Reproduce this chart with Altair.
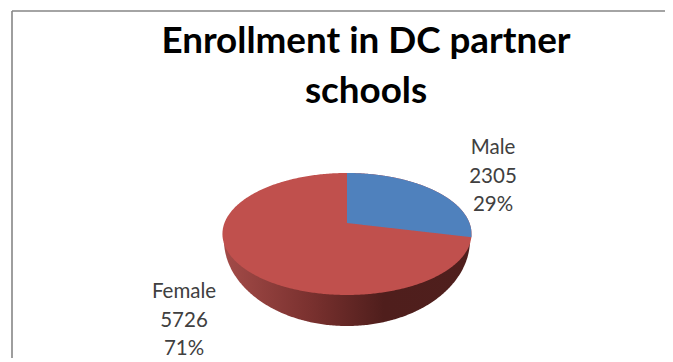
import math
import altair as alt

categories = ["Male", "Female"]
values = [2305, 5726]
title_lines = ["Enrollment in DC partner", "schools"]
label_font = "Lato"
colors = ["#4f81bd", "#c0504d"]

total = sum(values)
share = values[0] / total
W, H = 657, 350

# perspective of the tilted disc: k = foreshortening of the near/far side
k = 0.18
xs = alt.Scale(domain=[-2.767, 2.596], nice=False, zero=False)
ys = alt.Scale(domain=[-2.288, 3.644], nice=False, zero=False)
X = lambda f: alt.X(f, type="quantitative", scale=xs, axis=None)
Y = lambda f: alt.Y(f, type="quantitative", scale=ys, axis=None)

seq = alt.sequence(0, 1.0001, 0.004, as_="t")

# side wall of the cake, shaded from left to right
wall = (
    alt.Chart(seq)
    .transform_calculate(
        a="PI*datum.t",
        x="1.004*cos(datum.a)",
        y="-0.186",
        y_low="-0.288-1.458*sin(datum.a)",
    )
    .mark_area(
        color=alt.Gradient(
            gradient="linear",
            x1=0, x2=1, y1=0, y2=0,
            stops=[
                alt.GradientStop(offset=0, color="#a34b48"),
                alt.GradientStop(offset=0.35, color="#7a312f"),
                alt.GradientStop(offset=0.65, color="#4f1e1c"),
                alt.GradientStop(offset=1, color="#4f1f1d"),
            ],
        )
    )
    .encode(x=X("x:Q"), y=Y("y:Q"), y2="y_low:Q")
)

# whole top of the disc (the Female colour)
disc = (
    alt.Chart(seq)
    .transform_calculate(
        a="PI*datum.t",
        x="1.0166*cos(datum.a)",
        y="-0.186+1.034*sin(datum.a)",
        y_low="-0.186-1.034*sin(datum.a)",
    )
    .mark_area(color=colors[1])
    .encode(x=X("x:Q"), y=Y("y:Q"), y2="y_low:Q")
)

# Male sector, from 12 o'clock clockwise by its share of the total
th1 = 2 * math.pi * share
sector = (
    alt.Chart(seq)
    .transform_calculate(
        a=f"datum.t*{th1}",
        w=f"1+{k}*cos(datum.a)",
        x="sin(datum.a)/datum.w",
        y="cos(datum.a)/datum.w",
        y_low=f"datum.x*cos({th1})/sin({th1})",
    )
    .mark_area(color=colors[0])
    .encode(x=X("x:Q"), y=Y("y:Q"), y2="y_low:Q")
)

# frame: left and top edges of the embedded chart
frame_left = alt.Chart(alt.Data(values=[{}])).mark_rule(color="#868686", strokeWidth=1.6).encode(
    x=alt.value(4), y=alt.value(3), y2=alt.value(H)
)
frame_top = alt.Chart(alt.Data(values=[{}])).mark_rule(color="#868686", strokeWidth=1.6).encode(
    x=alt.value(4), x2=alt.value(W), y=alt.value(3)
)

title_rows = [
    {"text": t, "py": 45 + i * 50} for i, t in enumerate(title_lines)
]
title = (
    alt.Chart(alt.Data(values=title_rows))
    .mark_text(font=label_font, fontWeight="bold", fontSize=36.8, color="#000000",
               align="center", baseline="alphabetic")
    .encode(x=alt.value(358), y=alt.Y("py:Q", scale=None), text="text:N")
)

label_rows = []
for cat, val, cx, top in zip(categories, values, [485, 176], [146, 290]):
    pct = f"{round(100 * val / total)}%"
    for i, line in enumerate([cat, str(val), pct]):
        label_rows.append({"text": line, "px": cx, "py": top + i * 28.7})
labels = (
    alt.Chart(alt.Data(values=label_rows))
    .mark_text(font=label_font, fontSize=20.5, color="#404040", align="center", baseline="alphabetic")
    .encode(x=alt.X("px:Q", scale=None), y=alt.Y("py:Q", scale=None), text="text:N")
)

chart = (
    alt.layer(wall, disc, sector)
    .resolve_scale(x="shared", y="shared")
    .properties(width=W, height=H)
)
overlay = alt.layer(frame_left, frame_top, title, labels).resolve_scale(x="independent", y="independent")
chart = (
    alt.layer(chart, overlay)
    .resolve_scale(x="independent", y="independent")
    .properties(width=W, height=H, padding=0, autosize=alt.AutoSizeParams(type="none"), background="#ffffff")
    .configure_view(stroke=None)
)

chart.save("out.html", embed_options={"renderer": "svg", "actions": False})
